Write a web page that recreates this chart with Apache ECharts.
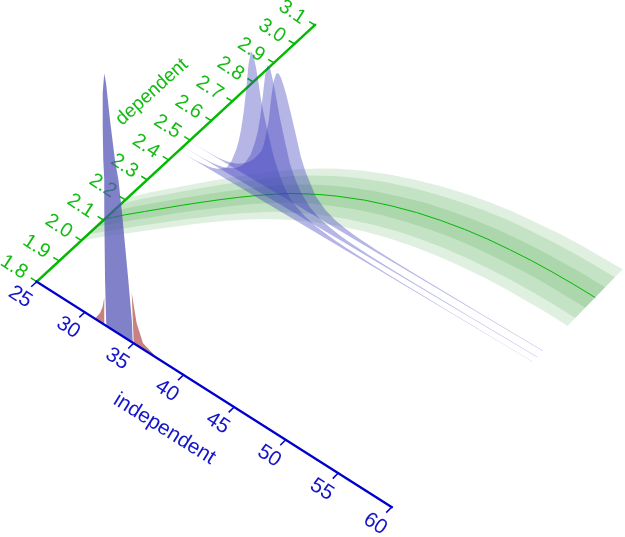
<!DOCTYPE html>
<html>
<head>
<meta charset="utf-8">
<style>
  html, body { margin: 0; padding: 0; background: #fff; }
  #main { width: 625px; height: 537px; }
</style>
<script src="https://cdn.jsdelivr.net/npm/echarts@6/dist/echarts.min.js"></script>
</head>
<body>
<div id="main"></div>
<script>
// axis ticks
var independentTicks = [25, 30, 35, 40, 45, 50, 55, 60];
var dependentTicks = [1.8, 1.9, 2.0, 2.1, 2.2, 2.3, 2.4, 2.5, 2.6, 2.7, 2.8, 2.9, 3.0, 3.1];

// fitted curve and its three bands (half widths)
var bandX = [25, 26, 27, 28, 29, 30, 31, 32, 33, 34, 35, 36, 37, 38, 40, 42, 44, 46, 48, 50, 52, 54, 56, 58, 60];
var bandCenter = [2.105, 2.155, 2.2, 2.245, 2.29, 2.333, 2.375, 2.415, 2.453, 2.488, 2.52, 2.547, 2.572, 2.594, 2.632, 2.662, 2.687, 2.706, 2.721, 2.732, 2.739, 2.744, 2.746, 2.746, 2.744];
var bandOuter = [0.105, 0.11, 0.113, 0.116, 0.118, 0.12, 0.121, 0.122, 0.123, 0.125, 0.125, 0.126, 0.126, 0.126, 0.126, 0.126, 0.127, 0.128, 0.129, 0.13, 0.13, 0.131, 0.132, 0.132, 0.133];
var bandMiddle = [0.076, 0.079, 0.081, 0.083, 0.085, 0.086, 0.087, 0.088, 0.089, 0.09, 0.09, 0.091, 0.091, 0.091, 0.091, 0.091, 0.091, 0.092, 0.093, 0.094, 0.094, 0.094, 0.095, 0.095, 0.096];
var bandInner = [0.038, 0.04, 0.041, 0.042, 0.042, 0.043, 0.044, 0.044, 0.044, 0.045, 0.045, 0.045, 0.045, 0.045, 0.045, 0.045, 0.046, 0.046, 0.046, 0.047, 0.047, 0.047, 0.047, 0.048, 0.048];

// conditional densities of independent, one ribbon per dependent value
var ribbonX = [25, 26, 27, 28, 28.5, 29, 29.5, 30, 30.5, 31, 31.25, 31.5, 31.75, 32, 32.25, 32.5, 32.75, 33, 33.25, 33.5, 33.75, 34, 34.25, 34.5, 34.75, 35, 35.5, 36, 36.5, 37, 38, 39, 40, 41, 42, 44, 46, 48, 50, 52, 54, 56, 58, 60];
var ribbonLevels = [2.446, 2.467, 2.495];
var ribbonA = [0.001, 0.002, 0.006, 0.02, 0.03, 0.05, 0.08, 0.12, 0.21, 0.36, 0.46, 0.59, 0.77, 1.0, 1.28, 1.43, 1.4, 1.3, 1.17, 1.02, 0.9, 0.8, 0.71, 0.62, 0.53, 0.46, 0.34, 0.25, 0.19, 0.15, 0.095, 0.065, 0.048, 0.036, 0.028, 0.019, 0.014, 0.011, 0.009, 0.007, 0.006, 0.005, 0.0045, 0.004];
var ribbonB = [0.001, 0.001, 0.004, 0.01, 0.018, 0.03, 0.045, 0.07, 0.1, 0.15, 0.18, 0.22, 0.27, 0.32, 0.4, 0.49, 0.6, 0.76, 0.98, 1.21, 1.32, 1.3, 1.21, 1.1, 0.98, 0.86, 0.66, 0.47, 0.35, 0.26, 0.15, 0.095, 0.065, 0.046, 0.034, 0.022, 0.016, 0.012, 0.01, 0.008, 0.0065, 0.0055, 0.005, 0.0042];
var ribbonC = [0.001, 0.001, 0.003, 0.008, 0.014, 0.025, 0.04, 0.06, 0.09, 0.13, 0.15, 0.18, 0.21, 0.25, 0.29, 0.33, 0.41, 0.54, 0.68, 0.92, 1.1, 1.19, 1.21, 1.18, 1.12, 1.05, 0.88, 0.7, 0.51, 0.38, 0.2, 0.12, 0.075, 0.052, 0.038, 0.024, 0.017, 0.013, 0.01, 0.0085, 0.007, 0.006, 0.005, 0.0045];

// marginal of independent at the front wall
var marginalX = [32.25, 32.2, 32.08, 32.0, 32.0, 31.9, 31.84, 31.84, 32.0, 32.18, 32.59, 33.1, 33.46, 33.81, 34.45, 34.83, 34.9];
var marginalZ = [0, 0.03, 0.45, 1.15, 1.45, 1.64, 1.97, 2.31, 2.51, 2.43, 2.08, 1.71, 1.53, 1.23, 0.6, 0.19, 0];
var priorLeftX = [31.05, 31.57, 31.84, 32.0, 32.0];
var priorLeftZ = [0, 0.09, 0.17, 0.27, 0];
var priorRightX = [35.0, 34.8, 35.3, 35.94, 36.95, 37.2];
var priorRightZ = [0, 0.49, 0.22, 0.06, 0.02, 0];

// oblique view of the (independent, dependent) floor
var view = { ax: 331.5, ay: 194.9, bx: 295, by: -255.4, ox: 36.7, oy: 281.7, gu: -0.06, gv: 0.053, zPx: 100 };

function project(api, x, y, z) {
    var p = api.coord([x, y]);
    var u = p[0] / api.getWidth();
    var v = 1 - p[1] / api.getHeight();
    var w = 1 + view.gu * u + view.gv * v;
    return [
        (view.ax * u + view.bx * v + view.ox) / w,
        (view.ay * u + view.by * v + view.oy) / w - (z || 0) * view.zPx
    ];
}

function layer(build) {
    return {
        type: 'custom',
        coordinateSystem: 'cartesian2d',
        clip: false,
        silent: true,
        data: [[25, 1.8]],
        renderItem: function (params, api) {
            return { type: 'group', children: build(api) };
        }
    };
}

function seg(api, a, b, color, width) {
    var p = project(api, a[0], a[1]);
    var q = project(api, b[0], b[1]);
    return {
        type: 'line',
        shape: { x1: p[0], y1: p[1], x2: q[0], y2: q[1] },
        style: { stroke: color, lineWidth: width, lineCap: 'square' }
    };
}

function label(api, x, y, text, color, deg, size) {
    var p = project(api, x, y);
    return {
        type: 'text',
        x: p[0],
        y: p[1],
        rotation: deg * Math.PI / 180,
        style: {
            text: text,
            fill: color,
            font: size + 'px "Liberation Sans", Arial, sans-serif',
            textAlign: 'center',
            textVerticalAlign: 'middle'
        }
    };
}

function poly(points, fill) {
    return { type: 'polygon', shape: { points: points }, style: { fill: fill } };
}

function bandPolygon(api, half, fill) {
    var pts = [];
    bandX.forEach(function (x, i) { pts.push(project(api, x, bandCenter[i] + half[i])); });
    for (var i = bandX.length - 1; i >= 0; i--) pts.push(project(api, bandX[i], bandCenter[i] - half[i]));
    return poly(pts, fill);
}

function ribbonPolygon(api, level, values) {
    var pts = [project(api, ribbonX[0], level)];
    ribbonX.forEach(function (x, i) { pts.push(project(api, x, level, values[i])); });
    pts.push(project(api, ribbonX[ribbonX.length - 1], level));
    return poly(pts, 'rgba(60,60,190,0.38)');
}

function wallPolygon(api, xs, zs, fill) {
    return poly(xs.map(function (x, i) { return project(api, x, 1.8, zs[i]); }), fill);
}

var GREEN = '#00bb00';
var BLUE = '#0000cd';

var greenAxis = layer(function (api) {
    var items = [seg(api, [25, 1.8], [25, 3.1], GREEN, 2.4)];
    dependentTicks.forEach(function (y) {
        items.push(seg(api, [25, y], [24.45, y], GREEN, 1.5));
        items.push(label(api, 22.6, y, y.toFixed(1), '#14bb14', -33, 20));
    });
    items.push(label(api, 19.15, 2.58, 'dependent', '#14bb14', 42, 19));
    return items;
});

var bands = layer(function (api) {
    return [
        bandPolygon(api, bandOuter, 'rgba(0,128,0,0.12)'),
        bandPolygon(api, bandMiddle, 'rgba(0,128,0,0.12)'),
        bandPolygon(api, bandInner, 'rgba(0,128,0,0.12)')
    ];
});

var centerLine = layer(function (api) {
    return [{
        type: 'polyline',
        shape: { points: bandX.map(function (x, i) { return project(api, x, bandCenter[i]); }) },
        style: { stroke: GREEN, lineWidth: 1, fill: null }
    }];
});

var densities = layer(function (api) {
    return [
        wallPolygon(api, priorLeftX, priorLeftZ, 'rgba(170,60,60,0.65)'),
        wallPolygon(api, priorRightX, priorRightZ, 'rgba(170,60,60,0.65)'),
        wallPolygon(api, marginalX, marginalZ, 'rgba(80,80,180,0.72)'),
        ribbonPolygon(api, ribbonLevels[0], ribbonA),
        ribbonPolygon(api, ribbonLevels[1], ribbonB),
        ribbonPolygon(api, ribbonLevels[2], ribbonC)
    ];
});

var blueAxis = layer(function (api) {
    var items = [seg(api, [25, 1.8], [60, 1.8], BLUE, 2.4)];
    independentTicks.forEach(function (x) {
        items.push(seg(api, [x, 1.8], [x, 1.778], BLUE, 1.5));
        items.push(label(api, x, 1.727, String(x), '#1414cc', -33, 21));
    });
    items.push(label(api, 42.2, 1.618, 'independent', '#1414cc', -32, 21));
    return items;
});

var myChart = echarts.init(document.getElementById('main'));
myChart.setOption({
    animation: false,
    backgroundColor: '#fff',
    grid: { left: 0, right: 0, top: 0, bottom: 0 },
    xAxis: { type: 'value', min: 25, max: 60, show: false },
    yAxis: { type: 'value', min: 1.8, max: 3.1, show: false },
    series: [greenAxis, bands, centerLine, densities, blueAxis]
});
</script>
</body>
</html>
